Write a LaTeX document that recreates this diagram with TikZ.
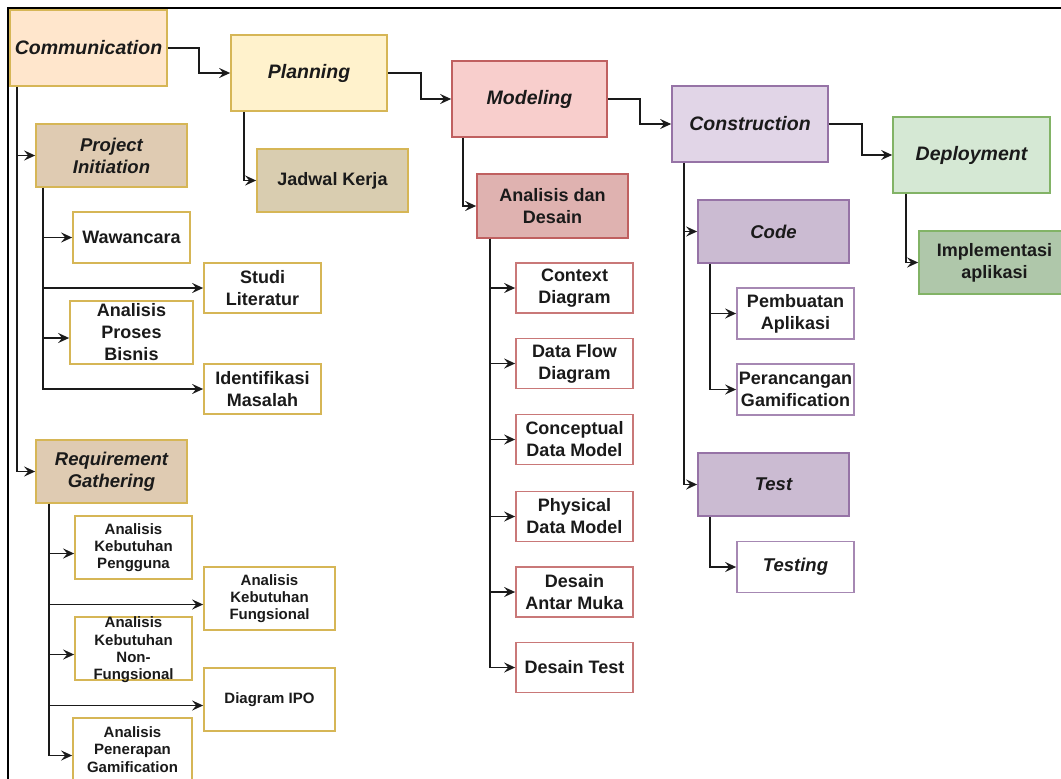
\documentclass[tikz,border=0pt]{standalone}
\usepackage{fontspec}
\setmainfont{Liberation Sans}
\usetikzlibrary{arrows.meta,calc}
\definecolor{gold}{HTML}{D6B656}
\definecolor{fcomm}{HTML}{FFE6CC}
\definecolor{fplan}{HTML}{FFF2CC}
\definecolor{ftan}{HTML}{DFCBB2}
\definecolor{fjad}{HTML}{D9CDB0}
\definecolor{redb}{HTML}{C06060}
\definecolor{fmod}{HTML}{F8CECC}
\definecolor{fad}{HTML}{DFB2B0}
\definecolor{purb}{HTML}{9673A6}
\definecolor{fcons}{HTML}{E1D5E7}
\definecolor{fcode}{HTML}{CBBBD2}
\definecolor{greenb}{HTML}{82B366}
\definecolor{fdep}{HTML}{D5E8D4}
\definecolor{fimp}{HTML}{AFC7AA}
\definecolor{ink}{HTML}{1A1A1A}
\newcommand{\fsBig}{\fontsize{19.5}{23}\selectfont\bfseries\itshape}
\newcommand{\fsMid}{\fontsize{18}{22}\selectfont\bfseries}
\newcommand{\fsMidIt}{\fontsize{18.5}{22}\selectfont\bfseries\itshape}
\newcommand{\fsSmall}{\fontsize{15}{17.3}\selectfont\bfseries}
\tikzset{
  box/.style={draw, line width=1.7pt, inner sep=0pt, align=center, text=ink},
  arr/.style={draw=ink, line width=1.8pt, -{Stealth[length=11pt,width=10pt,inset=4pt]}},
  bx/.style n args={2}{minimum width=#1, minimum height=#2},
}
\begin{document}
\begin{tikzpicture}[x=1pt,y=-1pt]
\useasboundingbox (0,0) rectangle (1061,779);
\fill[white] (0,0) rectangle (1061,779);
\draw[line width=2.5pt, black] (8,8) rectangle (1075,795);

% main phases
\node[box, bx={157pt}{76pt}, draw=gold, fill=fcomm, font=\fsBig] (comm) at (88.5,48) {Communication};
\node[box, bx={156pt}{76pt}, draw=gold, fill=fplan, font=\fsBig] (plan) at (309,73) {Planning};
\node[box, bx={155pt}{76pt}, draw=redb, fill=fmod, font=\fsBig] (mod) at (529.5,99) {Modeling};
\node[box, bx={156pt}{76pt}, draw=purb, fill=fcons, font=\fsBig] (cons) at (750,124) {Construction};
\node[box, bx={157pt}{76pt}, draw=greenb, fill=fdep, font=\fsBig] (dep) at (971.5,155) {Deployment};

\draw[arr] (comm.east) -- ++(31,0) |- (plan.west);
\draw[arr] (plan.east) -- ++(33,0) |- (mod.west);
\draw[arr] (mod.east) -- ++(32,0) |- (cons.west);
\draw[arr] (cons.east) -- ++(33,0) |- (dep.west);

% Communication branch
\node[box, bx={151pt}{63pt}, draw=gold, fill=ftan, font=\fsMidIt] (pi) at (111.5,155.5) {Project\\Initiation};
\node[box, bx={151pt}{63pt}, draw=gold, fill=ftan, font=\fsMidIt] (rg) at (111.5,471.5) {Requirement\\Gathering};
\coordinate (commT) at ([xshift=8pt]comm.south west);
\draw[arr] (commT) |- (pi.west);
\draw[arr] (commT) |- (rg.west);

\node[box, bx={117pt}{51pt}, draw=gold, fill=white, font=\fsMid] (waw) at (131.5,237.5) {Wawancara};
\node[box, bx={117pt}{50pt}, draw=gold, fill=white, font=\fsMid] (studi) at (262.5,288) {Studi\\Literatur};
\node[box, bx={123pt}{63pt}, draw=gold, fill=white, font=\fsMid] (proses) at (131.5,332.5) {Analisis\\Proses\\Bisnis};
\node[box, bx={117pt}{50pt}, draw=gold, fill=white, font=\fsMid] (ident) at (262.5,389) {Identifikasi\\Masalah};
\coordinate (piT) at ([xshift=8pt]pi.south west);
\draw[arr] (piT) |- (waw.west);
\draw[arr] (piT) |- (studi.west);
\draw[arr] (piT) |- ([yshift=-5.5pt]proses.west);
\draw[arr] (piT) |- (ident.west);

\node[box, bx={117pt}{63pt}, draw=gold, fill=white, font=\fsSmall] (akp) at (133.5,547.5) {Analisis\\Kebutuhan\\Pengguna};
\node[box, bx={131pt}{63pt}, draw=gold, fill=white, font=\fsSmall] (akf) at (269.5,598.5) {Analisis\\Kebutuhan\\Fungsional};
\node[box, bx={117pt}{63pt}, draw=gold, fill=white] (anf) at (133.5,648.5) {};
\node[align=center, inner sep=0pt, text=ink, font=\fsSmall] (anft) at (133.5,650) {Analisis\\Kebutuhan\\Non-\\Fungsional};
\node[box, bx={131pt}{63pt}, draw=gold, fill=white, font=\fsSmall] (ipo) at (269.5,699.5) {Diagram IPO};
\node[box, bx={119pt}{63pt}, draw=gold, fill=white, font=\fsSmall] (apg) at (132.5,749.5) {Analisis\\Penerapan\\Gamification};
\coordinate (rgT) at ([xshift=14pt]rg.south west);
\draw[arr] (rgT) |- ([yshift=-6pt]akp.west);
\draw[arr] (rgT) |- ([yshift=-6pt]akf.west);
\draw[arr] (rgT) |- ([yshift=-6pt]anf.west);
\draw[arr] (rgT) |- ([yshift=-6pt]ipo.west);
\draw[arr] (rgT) |- ([yshift=-6pt]apg.west);

% Planning branch
\node[box, bx={151pt}{63pt}, draw=gold, fill=fjad, font=\fsMid] (jad) at (332.5,180.5) {Jadwal Kerja};
\draw[arr] ([xshift=14pt]plan.south west) |- (jad.west);

% Modeling branch
\node[box, bx={151pt}{64pt}, draw=redb, fill=fad, font=\fsMid] (ad) at (552.5,206) {Analisis dan\\Desain};
\draw[arr] ([xshift=12pt]mod.south west) |- (ad.west);
\tikzset{mchild/.style={box, bx={117pt}{50pt}, draw=redb!85, fill=white, font=\fsMid}}
\node[mchild] (ctx) at (574.5,288) {Context\\Diagram};
\node[mchild] (dfd) at (574.5,363.5) {Data Flow\\Diagram};
\node[mchild] (cdm) at (574.5,439.5) {Conceptual\\Data Model};
\node[mchild] (pdm) at (574.5,516.5) {Physical\\Data Model};
\node[mchild] (dam) at (574.5,592) {Desain\\Antar Muka};
\node[mchild] (dt) at (574.5,667.5) {Desain Test};
\coordinate (adT) at ([xshift=14pt]ad.south west);
\foreach \n in {ctx,dfd,cdm,pdm,dam,dt} \draw[arr] (adT) |- (\n.west);

% Construction branch
\node[box, bx={151pt}{63pt}, draw=purb, fill=fcode, font=\fsMidIt] (code) at (773.5,231.5) {Code};
\node[box, bx={151pt}{63pt}, draw=purb, fill=fcode, font=\fsMidIt] (test) at (773.5,484.5) {Test};
\coordinate (consT) at ([xshift=13pt]cons.south west);
\draw[arr] (consT) |- (code.west);
\draw[arr] (consT) |- (test.west);
\tikzset{cchild/.style={box, bx={117pt}{51pt}, draw=purb!85, fill=white, font=\fsMid}}
\node[cchild] (pa) at (795.5,313.5) {Pembuatan\\Aplikasi};
\node[cchild] (pg) at (795.5,389.5) {Perancangan\\Gamification};
\node[cchild, font=\fsMidIt] (testing) at (795.5,567) {Testing};
\coordinate (codeT) at ([xshift=13pt]code.south west);
\draw[arr] (codeT) |- (pa.west);
\draw[arr] (codeT) |- (pg.west);
\draw[arr] ([xshift=13pt]test.south west) |- (testing.west);

% Deployment branch
\node[box, bx={151pt}{63pt}, draw=greenb, fill=fimp, font=\fsMid] (impl) at (994.5,262.5) {Implementasi\\aplikasi};
\draw[arr] ([xshift=14pt]dep.south west) |- (impl.west);
\end{tikzpicture}
\end{document}
